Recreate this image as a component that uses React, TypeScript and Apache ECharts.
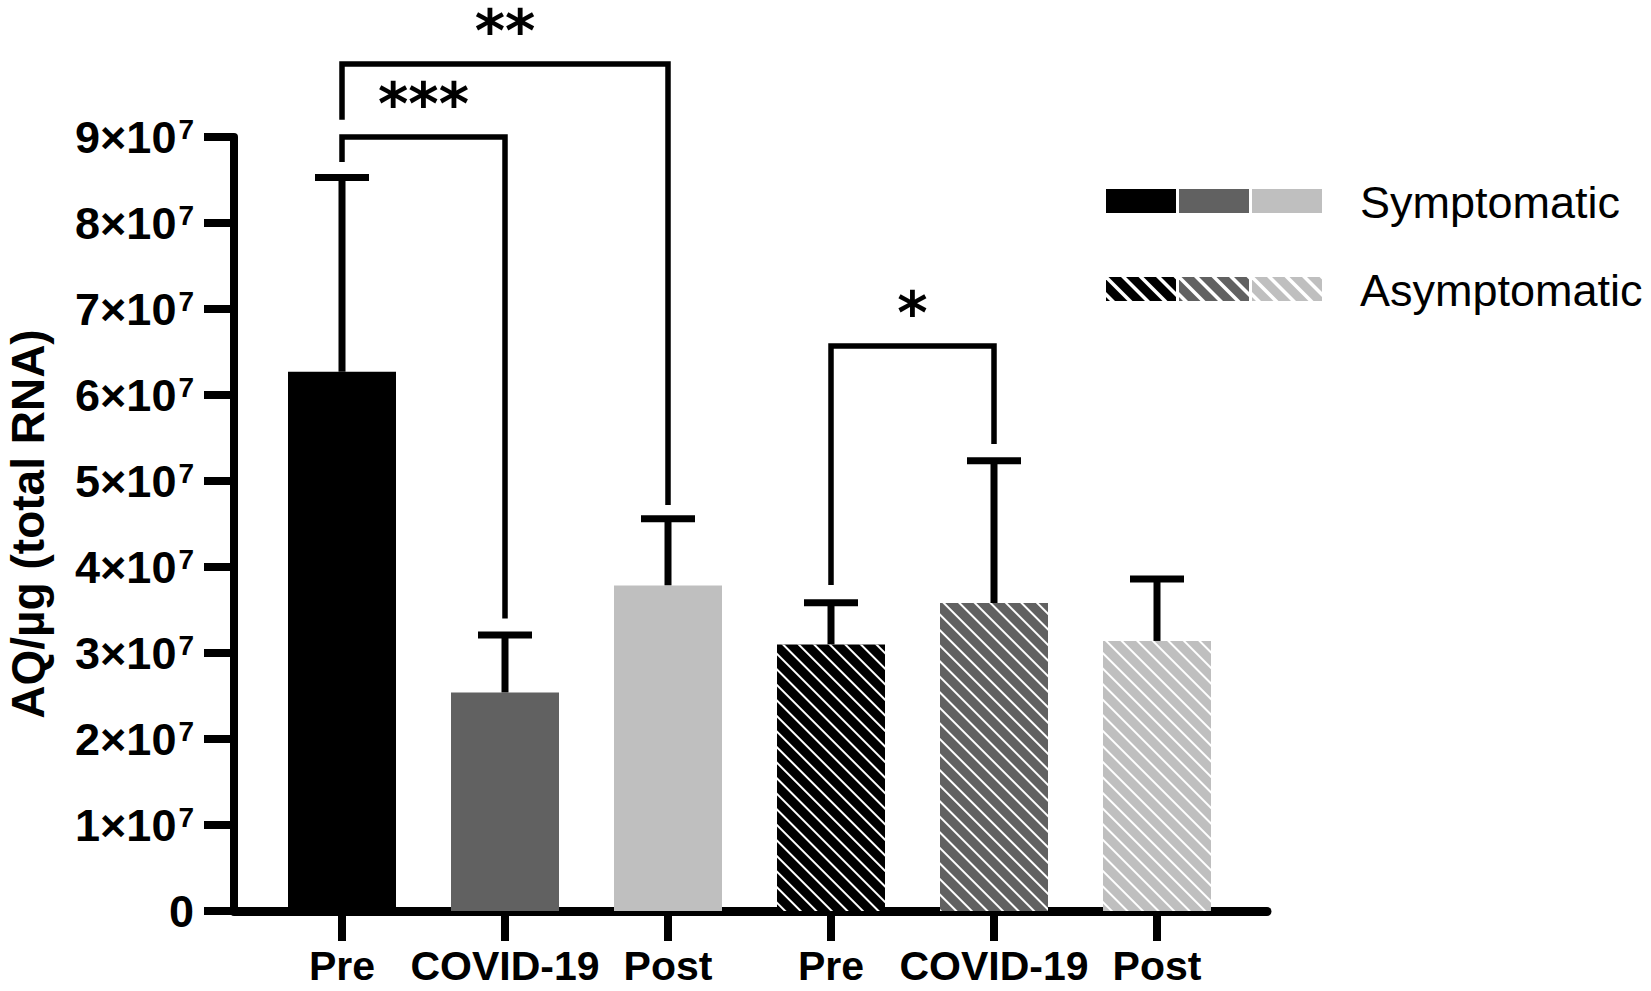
import React, { useEffect, useRef } from "react";
import * as echarts from "echarts";

// ---- data ----
const categories = ["Pre", "COVID-19", "Post", "Pre", "COVID-19", "Post"];
const means = [6.27e7, 2.54e7, 3.785e7, 3.1e7, 3.58e7, 3.14e7];
const upperSD = [2.26e7, 0.67e7, 0.775e7, 0.485e7, 1.655e7, 0.72e7];
const barColors = ["#000000", "#616161", "#bfbfbf", "#000000", "#616161", "#bfbfbf"];
const hatched = [false, false, false, true, true, true];
// [fromIndex, toIndex, bracketValue, leftLegEndValue, rightLegEndValue]
const brackets = [
  [0, 1, 9.0e7, 8.71e7, 3.4e7],
  [0, 2, 9.85e7, 9.2e7, 4.72e7],
  [3, 4, 6.57e7, 3.79e7, 5.43e7],
];
const bracketLabels = ["***", "**", "*"];
const legendLabels = ["Symptomatic", "Asymptomatic"];
const legendColors = ["#000000", "#616161", "#bfbfbf"];
const yMax = 9e7;
const yInterval = 1e7;

const FONT = '"Liberation Sans", Arial, Helvetica, sans-serif';

type Pt = [number, number];
function clipPoly(pts: Pt[], f: (p: Pt) => number): Pt[] {
  const out: Pt[] = [];
  for (let i = 0; i < pts.length; i++) {
    const a = pts[i];
    const b = pts[(i + 1) % pts.length];
    const fa = f(a);
    const fb = f(b);
    if (fa >= 0) out.push(a);
    if (fa >= 0 !== fb >= 0) {
      const t = fa / (fa - fb);
      out.push([a[0] + t * (b[0] - a[0]), a[1] + t * (b[1] - a[1])]);
    }
  }
  return out;
}

function hatchStripes(x: number, y: number, w: number, h: number, period: number, sw: number) {
  const rect: Pt[] = [
    [x, y],
    [x + w, y],
    [x + w, y + h],
    [x, y + h],
  ];
  const els: any[] = [];
  const uMin = x - (y + h) - period;
  const uMax = x + w - y;
  for (let c = uMin + 4; c < uMax; c += period) {
    let p = clipPoly(rect, (q) => q[0] - q[1] - c);
    p = clipPoly(p, (q) => c + sw - (q[0] - q[1]));
    if (p.length >= 3) {
      els.push({ type: "polygon", shape: { points: p }, style: { fill: "#ffffff" } });
    }
  }
  return els;
}

export default function App() {
  const ref = useRef<HTMLDivElement>(null);

  useEffect(() => {
    if (!ref.current) return;
    const chart = echarts.init(ref.current, undefined, { renderer: "svg" });

    const decal = {
      symbol: "rect",
      symbolSize: 1,
      color: "#ffffff",
      dashArrayX: [1, 0],
      dashArrayY: [2, 9],
      rotation: Math.PI / 4,
    };

    const barData = means.map((v, i) => ({
      value: v,
      itemStyle: hatched[i]
        ? { color: barColors[i], decal }
        : { color: barColors[i], decal: { symbol: "none" } },
    }));

    const errData = means.map((v, i) => [i, v, v + upperSD[i]]);

    // legend graphics
    const graphics: any[] = [];
    const swX = [1106, 1179, 1252];
    const swW = 70;
    const swH = 24;
    const rowY = [189, 277];
    rowY.forEach((ry, r) => {
      swX.forEach((sx, k) => {
        graphics.push({
          type: "rect",
          shape: { x: sx, y: ry, width: swW, height: swH },
          style: { fill: legendColors[k] },
        });
        if (r === 1) {
          hatchStripes(sx, ry, swW, swH, 17.5, 5).forEach((e) => graphics.push(e));
        }
      });
      graphics.push({
        type: "text",
        x: 1360,
        y: ry + swH / 2 + 1,
        style: {
          text: legendLabels[r],
          fontSize: 45,
          fontFamily: FONT,
          fill: "#000",
          verticalAlign: "middle",
          align: "left",
        },
      });
    });

    const option: any = {
      animation: false,
      backgroundColor: "#ffffff",
      grid: [
        { left: 260.5, top: 137, width: 978, height: 774, outerBoundsMode: "none", containLabel: false },
        { left: 234, top: 137, width: 1033, height: 774, outerBoundsMode: "none", containLabel: false },
      ],
      xAxis: [
        {
          type: "category",
          gridIndex: 0,
          data: categories,
          axisLine: { show: false },
          axisTick: {
            show: true,
            alignWithLabel: true,
            length: 30,
            lineStyle: { color: "#000", width: 8 },
          },
          axisLabel: {
            interval: 0,
            margin: 34,
            color: "#000",
            fontSize: 41,
            fontWeight: "bold",
            fontFamily: FONT,
          },
          splitLine: { show: false },
        },
        {
          type: "value",
          gridIndex: 1,
          min: 0,
          max: 1,
          axisLine: { show: true, onZero: false, lineStyle: { color: "#000", width: 9 } },
          axisTick: { show: false },
          axisLabel: { show: false },
          splitLine: { show: false },
        },
      ],
      yAxis: [
        {
          type: "value",
          gridIndex: 0,
          min: 0,
          max: yMax,
          interval: yInterval,
          offset: 26.5,
          name: "AQ/µg (total RNA)",
          nameLocation: "middle",
          nameRotate: 90,
          nameGap: 183,
          nameTextStyle: {
            color: "#000",
            fontSize: 46,
            fontWeight: "bold",
            fontFamily: FONT,
          },
          axisLine: { show: true, lineStyle: { color: "#000", width: 8 } },
          axisTick: { show: true, length: 30, lineStyle: { color: "#000", width: 8 } },
          splitLine: { show: false },
          axisLabel: {
            margin: 40,
            align: "right",
            formatter: (v: number) =>
              v === 0 ? "{b|0}" : `{b|${Math.round(v / 1e7)}×10}{s|7}`,
            rich: {
              b: {
                fontSize: 45,
                fontWeight: "bold",
                fontFamily: FONT,
                color: "#000",
                lineHeight: 44,
              },
              s: {
                fontSize: 28,
                fontWeight: "bold",
                fontFamily: FONT,
                color: "#000",
                lineHeight: 28,
                verticalAlign: "top",
                padding: [0, 0, 0, 2],
              },
            },
          },
        },
        {
          type: "value",
          gridIndex: 1,
          show: false,
          min: 0,
          max: 1,
        },
      ],
      series: [
        {
          type: "bar",
          xAxisIndex: 0,
          yAxisIndex: 0,
          data: barData,
          barWidth: 108,
          silent: true,
        },
        {
          type: "custom",
          xAxisIndex: 0,
          yAxisIndex: 0,
          clip: false,
          silent: true,
          data: errData,
          renderItem: (params: any, api: any) => {
            const idx = api.value(0);
            const p0 = api.coord([idx, api.value(1)]);
            const p1 = api.coord([idx, api.value(2)]);
            const half = 27;
            return {
              type: "group",
              children: [
                {
                  type: "line",
                  shape: { x1: p0[0], y1: p0[1], x2: p1[0], y2: p1[1] },
                  style: { stroke: "#000", lineWidth: 7 },
                },
                {
                  type: "line",
                  shape: { x1: p1[0] - half, y1: p1[1], x2: p1[0] + half, y2: p1[1] },
                  style: { stroke: "#000", lineWidth: 7 },
                },
              ],
            };
          },
        },
        {
          type: "custom",
          xAxisIndex: 0,
          yAxisIndex: 0,
          clip: false,
          silent: true,
          data: brackets,
          renderItem: (params: any, api: any) => {
            const a = api.value(0);
            const b = api.value(1);
            const top = api.value(2);
            const pa = api.coord([a, top]);
            const pb = api.coord([b, top]);
            const la = api.coord([a, api.value(3)]);
            const lb = api.coord([b, api.value(4)]);
            return {
              type: "group",
              children: [
                {
                  type: "polyline",
                  shape: {
                    points: [
                      [la[0], la[1]],
                      [pa[0], pa[1]],
                      [pb[0], pb[1]],
                      [lb[0], lb[1]],
                    ],
                  },
                  style: { stroke: "#000", lineWidth: 5.5, fill: null, lineJoin: "miter" },
                },
                {
                  type: "text",
                  x: (pa[0] + pb[0]) / 2,
                  y: pa[1] - 33,
                  style: {
                    text: bracketLabels[params.dataIndex],
                    fontSize: 58,
                    lineHeight: 30,
                    fontWeight: "bold",
                    fontFamily: '"DejaVu Sans", sans-serif',
                    fill: "#000",
                    align: "center",
                    verticalAlign: "middle",
                  },
                },
              ],
            };
          },
        },
      ],
      graphic: graphics,
    };

    chart.setOption(option);
    return () => {
      chart.dispose();
    };
  }, []);

  return (
    <div
      ref={ref}
      style={{ position: "absolute", left: 0, top: 0, width: 1651, height: 991 }}
    />
  );
}
